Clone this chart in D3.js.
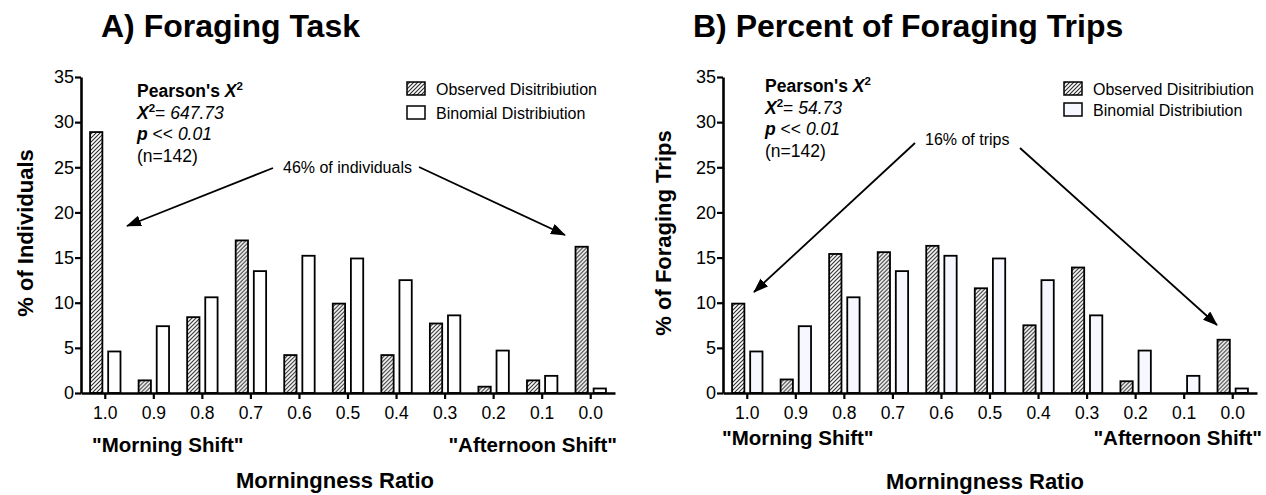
<!DOCTYPE html>
<html><head><meta charset="utf-8">
<script src="https://cdn.jsdelivr.net/npm/d3@7"></script>
<style>
body{margin:0;background:#fff}
svg{display:block}
text{font-family:"Liberation Sans",Arial,sans-serif;fill:#000}
</style>
</head><body>
<svg id="c" width="1266" height="495"></svg>
<script>
// ---- data ----
const categories = ["1.0","0.9","0.8","0.7","0.6","0.5","0.4","0.3","0.2","0.1","0.0"];
const observedA = [28.9, 1.4, 8.4, 16.9, 4.2, 9.9, 4.2, 7.7, 0.7, 1.4, 16.2];
const binomialA = [4.6, 7.4, 10.6, 13.5, 15.2, 14.9, 12.5, 8.6, 4.7, 1.9, 0.5];
const observedB = [9.9, 1.5, 15.4, 15.6, 16.3, 11.6, 7.5, 13.9, 1.3, 0, 5.9];
const binomialB = [4.6, 7.4, 10.6, 13.5, 15.2, 14.9, 12.5, 8.6, 4.7, 1.9, 0.5];
const yTicks = [0, 5, 10, 15, 20, 25, 30, 35];
const seriesKeys = ["Observed Disitribiution", "Binomial Distribiution"];

const svg = d3.select("#c");
const defs = svg.append("defs");
const pat = defs.append("pattern").attr("id","hatch").attr("patternUnits","userSpaceOnUse")
  .attr("width",4).attr("height",4);
pat.append("rect").attr("width",4).attr("height",4).attr("fill","#fff");
pat.append("path").attr("d","M-1,1 l2,-2 M0,4 l4,-4 M3,5 l2,-2")
  .attr("stroke","#2a2a2a").attr("stroke-width",1.1);
defs.append("marker").attr("id","arr").attr("markerUnits","userSpaceOnUse")
  .attr("markerWidth",15).attr("markerHeight",11).attr("refX",14).attr("refY",5.5)
  .attr("orient","auto")
  .append("path").attr("d","M0,0 L15,5.5 L0,11 Z").attr("fill","#000");

function panel(cfg){
  const g = svg.append("g");
  const x = d3.scaleBand().domain(categories).range([cfg.x0, cfg.x1]);
  const y = d3.scaleLinear().domain([0,35]).range([393, 77]);
  const inner = d3.scaleBand().domain(["obs","bin"]).range([0, x.bandwidth()])
    .paddingInner(0.32).paddingOuter(0.5);
  const data = categories.map((c,i)=>({c, obs:cfg.obs[i], bin:cfg.bin[i]}));

  // bars
  const grp = g.selectAll("g.cat").data(data).join("g").attr("class","cat")
    .attr("transform", d=>`translate(${x(d.c)},0)`);
  grp.filter(d=>d.obs>0).append("rect")
    .attr("x", inner("obs")).attr("width", inner.bandwidth())
    .attr("y", d=>y(d.obs)).attr("height", d=>y(0)-y(d.obs))
    .attr("fill","url(#hatch)").attr("stroke","#000").attr("stroke-width",1.8);
  grp.append("rect")
    .attr("x", inner("bin")).attr("width", inner.bandwidth())
    .attr("y", d=>y(d.bin)).attr("height", d=>y(0)-y(d.bin))
    .attr("fill", cfg.binFill).attr("stroke","#000").attr("stroke-width",1.8);

  // axes
  const ya = g.append("g").attr("transform",`translate(${cfg.x0},0)`)
    .call(d3.axisLeft(y).tickValues(yTicks).tickSize(6).tickPadding(1).tickSizeOuter(0));
  ya.selectAll("text").attr("font-size",18).attr("font-family","Liberation Sans, Arial");
  ya.select(".domain").attr("stroke-width",2.6);
  ya.selectAll(".tick line").attr("stroke-width",2.2);
  const xa = g.append("g").attr("transform",`translate(0,${y(0)})`)
    .call(d3.axisBottom(x).tickSize(6).tickPadding(8).tickSizeOuter(0));
  xa.selectAll("text").attr("font-size",17.5).attr("font-family","Liberation Sans, Arial");
  xa.select(".domain").attr("stroke-width",2.6);
  xa.selectAll(".tick line").attr("stroke-width",2.2);

  // titles & labels
  g.append("text").attr("x",cfg.titleX).attr("y",37).attr("font-size",32)
    .attr("font-weight","bold").text(cfg.title);
  g.append("text").attr("transform",`translate(${cfg.ylabX},233) rotate(-90)`)
    .attr("text-anchor","middle").attr("font-size",22).attr("font-weight","bold").text(cfg.ylab);
  g.append("text").attr("x",cfg.mornX).attr("y",cfg.shiftY).attr("font-size",20.5)
    .attr("font-weight","bold").text('"Morning Shift"');
  g.append("text").attr("x",cfg.aftX).attr("y",cfg.shiftY).attr("font-size",20.5)
    .attr("text-anchor","end").attr("font-weight","bold").text('"Afternoon Shift"');
  g.append("text").attr("x",cfg.xlabX).attr("y",cfg.xlabY).attr("font-size",22)
    .attr("text-anchor","middle").attr("font-weight","bold").text("Morningness Ratio");

  // stats block
  const sx = cfg.statX, sy = cfg.statY, fs = 17.5, lh = 21.7;
  const t1 = g.append("text").attr("x",sx).attr("y",sy).attr("font-size",fs).attr("font-weight","bold");
  t1.append("tspan").text("Pearson's ");
  t1.append("tspan").attr("font-style","italic").text("X");
  t1.append("tspan").attr("font-size",11.5).attr("dy",-7).text("2");
  const t2 = g.append("text").attr("x",sx).attr("y",sy+lh).attr("font-size",fs);
  t2.append("tspan").attr("font-weight","bold").attr("font-style","italic").text("X");
  t2.append("tspan").attr("font-weight","bold").attr("font-size",11.5).attr("dy",-7).text("2");
  t2.append("tspan").attr("dy",7).text("= ");
  t2.append("tspan").attr("font-style","italic").text(cfg.chi);
  const t3 = g.append("text").attr("x",sx).attr("y",sy+2*lh).attr("font-size",fs);
  t3.append("tspan").attr("font-weight","bold").attr("font-style","italic").text("p");
  t3.append("tspan").text(" << ");
  t3.append("tspan").attr("font-style","italic").text("0.01");
  g.append("text").attr("x",sx).attr("y",sy+3*lh).attr("font-size",fs).text("(n=142)");

  // legend
  seriesKeys.forEach((k,i)=>{
    const ly = cfg.legY + i*cfg.legStep;
    g.append("rect").attr("x",cfg.legX).attr("y",ly).attr("width",18).attr("height",13)
      .attr("fill", i===0 ? "url(#hatch)" : cfg.binFill).attr("stroke","#000").attr("stroke-width",1.5);
    g.append("text").attr("x",cfg.legX+29).attr("y",ly+12.5).attr("font-size",16).text(k);
  });

  // annotation
  g.append("text").attr("x",cfg.noteX).attr("y",cfg.noteY).attr("font-size",16).text(cfg.note);
  cfg.arrows.forEach(a=>{
    g.append("line").attr("x1",a[0]).attr("y1",a[1]).attr("x2",a[2]).attr("y2",a[3])
      .attr("stroke","#000").attr("stroke-width",1.8).attr("marker-end","url(#arr)");
  });
}

panel({
  x0:81, x1:615, obs:observedA, bin:binomialA, binFill:"#ffffff",
  title:"A) Foraging Task", titleX:101, ylab:"% of Individuals", ylabX:33,
  mornX:92, aftX:617, shiftY:452, xlabX:335, xlabY:488,
  statX:137, statY:97, chi:"647.73",
  legX:407, legY:82, legStep:24,
  note:"46% of individuals", noteX:283, noteY:173,
  arrows:[[273,168,127,226],[419,167,565,235]]
});
panel({
  x0:723, x1:1257, obs:observedB, bin:binomialB, binFill:"#f7f7ff",
  title:"B) Percent of Foraging Trips", titleX:693, ylab:"% of Foraging Trips", ylabX:671,
  mornX:722, aftX:1262, shiftY:445, xlabX:985, xlabY:489,
  statX:765, statY:92, chi:"54.73",
  legX:1064, legY:82, legStep:21,
  note:"16% of trips", noteX:925, noteY:145,
  arrows:[[915,143,754,292],[1020,148,1217,325]]
});
</script>
</body></html>
